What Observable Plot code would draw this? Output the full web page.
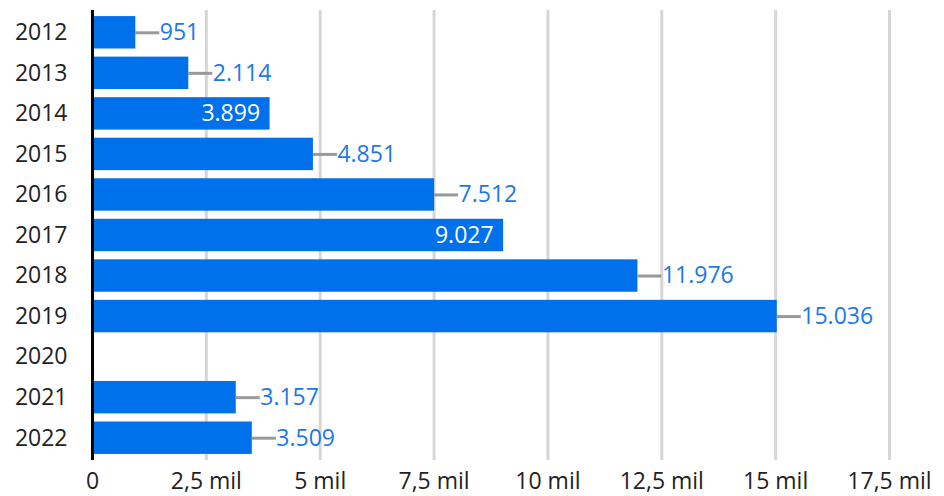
<!DOCTYPE html>
<html><head><meta charset="utf-8">
<script src="https://cdn.jsdelivr.net/npm/d3@7"></script>
<script src="https://cdn.jsdelivr.net/npm/@observablehq/plot@0.6"></script>
<style>body{margin:0;background:#fff}</style>
</head><body><div id="chart"></div>
<script>
const years = ["2012","2013","2014","2015","2016","2017","2018","2019","2020","2021","2022"];
const values = [951, 2114, 3899, 4851, 7512, 9027, 11976, 15036, null, 3157, 3509];
const insideLabelYears = ["2014", "2017"];
const xTicks = [0, 2500, 5000, 7500, 10000, 12500, 15000, 17500];

const loc = d3.formatLocale({decimal: ",", thousands: ".", grouping: [3], currency: ["", ""]});
const fmtValue = loc.format(",d");
const fmtNum = loc.format(",");
const fmtTick = d => d === 0 ? "0" : fmtNum(d / 1000) + " mil";

const data = years.map((y, i) => ({year: y, value: values[i], inside: insideLabelYears.includes(y)}));
const bars = data.filter(d => d.value != null);
const outside = bars.filter(d => !d.inside);
const inside = bars.filter(d => d.inside);

const barColor = "#0071eb";
const labelColor = "#1a78e8";
const fs = 23;

const chart = Plot.plot({
  width: 944,
  height: 496,
  marginLeft: 92,
  marginRight: 55,
  marginTop: 10,
  marginBottom: 36,
  style: {fontFamily: "'Open Sans', sans-serif", fontSize: fs + "px", color: "#222", background: "#fff"},
  x: {domain: [0, 17500]},
  y: {domain: years, paddingInner: 0.2, paddingOuter: 0.15, round: false},
  marks: [
    Plot.gridX(xTicks.filter(d => d > 0), {stroke: "#d6d6d6", strokeWidth: 3, strokeOpacity: 1}),
    Plot.axisX(xTicks, {tickSize: 0, tickPadding: 12, tickFormat: fmtTick, fontSize: fs, label: null}),
    Plot.axisY({tickSize: 0, tickPadding: 25, fontSize: fs, label: null}),
    Plot.barX(bars, {x: "value", y: "year", fill: barColor}),
    Plot.ruleY(outside, {x1: "value", x2: "value", y: "year", insetRight: -24, stroke: "#999", strokeWidth: 3}),
    Plot.text(outside, {x: "value", y: "year", text: d => fmtValue(d.value), textAnchor: "start", dx: 24, fill: labelColor, fontSize: fs}),
    Plot.text(inside, {x: "value", y: "year", text: d => fmtValue(d.value), textAnchor: "end", dx: -10, fill: "#fff", fontSize: fs}),
    Plot.ruleX([0], {stroke: "#000", strokeWidth: 3})
  ]
});
document.getElementById("chart").append(chart);
</script>
</body></html>
